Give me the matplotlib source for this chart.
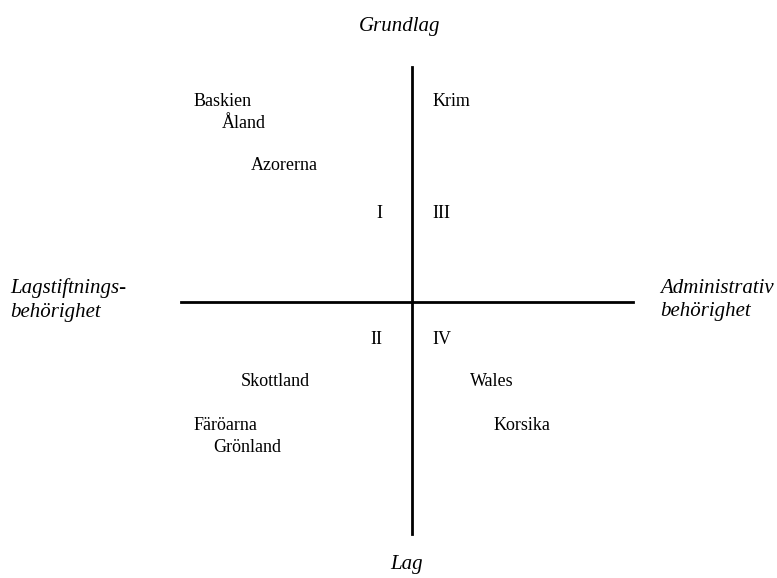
import numpy as np
import matplotlib
matplotlib.use('Agg')
import matplotlib.pyplot as plt

plt.rcParams['font.family'] = ['Liberation Serif', 'DejaVu Serif']

# regions placed on the two dimensions (origin = crossing of the axes)
regions = ['Baskien', 'Åland', 'Azorerna', 'Krim', 'Skottland',
           'Wales', 'Färöarna', 'Grönland', 'Korsika']
reg_x = [-218, -190, -161, 21, -171, 58, -218, -199, 82]
reg_y = [200, 179, 136, 200, -80, -80, -123, -145, -123]

quadrants = ['I', 'III', 'II', 'IV']
quad_x = [-30, 20, -30, 20]
quad_y = [88, 88, -37, -37]
quad_ha = ['right', 'left', 'right', 'left']

fig = plt.figure(figsize=(7.77, 5.78), dpi=100)
ax = fig.add_axes([0, 0, 1, 1])
ax.set_xlim(-412, 365)
ax.set_ylim(-276, 302)
ax.axis('off')

ax.plot([-231, 221], [0, 0], color='black', lw=2)
ax.plot([0, 0], [-232, 235], color='black', lw=2)

for name, x, y in zip(regions, reg_x, reg_y):
    ax.text(x, y, name, ha='left', va='center', fontsize=13)

for q, x, y, ha in zip(quadrants, quad_x, quad_y, quad_ha):
    ax.text(x, y, q, ha=ha, va='center', fontsize=13)

ax.text(-12, 275, 'Grundlag', ha='center', va='center', fontsize=15, style='italic')
ax.text(-5, -263, 'Lag', ha='center', va='center', fontsize=15, style='italic')
ax.text(-402, 2, 'Lagstiftnings-\nbehörighet', ha='left', va='center',
        fontsize=15, style='italic', linespacing=1.35)
ax.text(248, 2, 'Administrativ\nbehörighet', ha='left', va='center',
        fontsize=15, style='italic', linespacing=1.35)

fig.savefig('out.png', dpi=100)
